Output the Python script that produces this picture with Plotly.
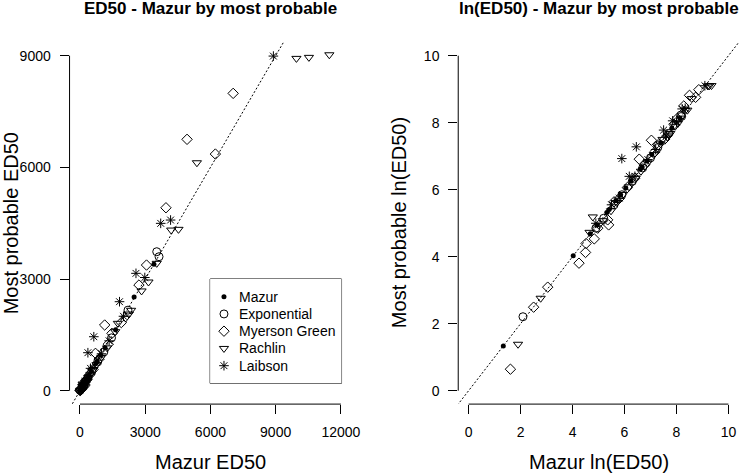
import numpy as np
import plotly.graph_objects as go

# ---------------- data (ED50 values: Mazur ED50 vs most probable ED50) ----------------
mazur_x = [3.8, 56, 108, 141, 204, 224, 290, 347, 424, 518, 742, 796, 953, 1153, 1636, 2490, 3400]
mazur_y = [3.8, 56, 108, 141, 204, 224, 290, 347, 424, 518, 742, 796, 953, 1153, 1636, 2520, 3400]

expo_x = [8.1, 134, 181, 270, 365, 545, 812, 1097, 1450, 2208, 3530, 3636]
expo_y = [9.1, 128, 172, 257, 347, 518, 773, 1043, 1420, 2164, 3734, 3600]

mg_x = [5.0, 12.2, 21, 70, 90, 92, 126, 144, 211, 219, 270, 330, 450, 600, 712, 880,
        1136, 1300, 1470, 1900, 2712, 3060, 3954, 4924, 6227, 7045]
mg_y = [1.9, 12.1, 22, 45, 62, 81, 93, 128, 164, 141, 281, 310, 430, 570, 1004, 850,
        1765, 1250, 1541, 1830, 2839, 3376, 4915, 6753, 6358, 7988]

rach_x = [6.7, 16, 105, 119, 150, 175, 240, 300, 380, 480, 620, 760, 980, 1250, 1621,
          1742, 2100, 2250, 2350, 2832, 3150, 3530, 4195, 4530, 5377, 9955, 10530, 11468]
rach_y = [4.0, 15.8, 113, 179, 140, 160, 215, 275, 350, 440, 570, 700, 900, 1150, 1585,
          1810, 1950, 2060, 2160, 2680, 2920, 3422, 4316, 4335, 6124, 8928, 8955, 9025]

laib_x = [134, 245, 330, 364, 485, 602, 636, 992, 1340, 1818, 2000, 2575, 2981, 3713, 4167, 8895]
laib_y = [148, 257, 314, 1021, 601, 602, 1450, 992, 1340, 2391, 2000, 3153, 3041, 4496, 4585, 8990]

series_names = ["Mazur", "Exponential", "Myerson Green", "Rachlin", "Laibson"]

left_xticks = [0, 3000, 6000, 9000, 12000]
left_xlabels = ["0", "3000", "6000", "9000", "12000"]
left_yticks = [0, 3000, 6000, 9000]
left_ylabels = ["0", "3000", "6000", "9000"]
right_ticks = [0, 2, 4, 6, 8, 10]
right_labels = ["0", "2", "4", "6", "8", "10"]

# ---------------- layout geometry ----------------
W, H = 749, 476
FONT = "Liberation Sans, Arial, Helvetica, sans-serif"


def fx(p):
    return p / W


def fy(p):
    return 1 - p / H


L_dom = [fx(70.4), fx(355.6)]
R_dom = [fx(463.8), fx(747.8)]
Y_dom = [fy(404.1), fy(42.3)]

# legend box (pixels)
LG_L, LG_R, LG_T, LG_B = 212.7, 345.7, 279.0, 383.3
ROW_PX = 17.25
FIRST_ROW_PX = 17.7
KEY_PX = 14.0
TEXT_PX = 27.0

styles = [
    dict(symbol="circle", size=5, color="black", line=dict(width=0, color="black")),
    dict(symbol="circle-open", size=8, color="black", line=dict(width=1, color="black")),
    dict(symbol="diamond-open", size=8, color="black", line=dict(width=1, color="black")),
    dict(symbol="triangle-down-open", size=8, color="black", line=dict(width=1, color="black")),
    dict(symbol="asterisk-open", size=8, color="black", line=dict(width=1, color="black")),
]
data_x = [mazur_x, expo_x, mg_x, rach_x, laib_x]
data_y = [mazur_y, expo_y, mg_y, rach_y, laib_y]

fig = go.Figure()

# identity reference lines (dotted)
fig.add_trace(go.Scatter(x=[-1000, 20000], y=[-1000, 20000], mode="lines",
                         line=dict(color="black", width=1, dash="2px,2px"),
                         showlegend=False, hoverinfo="skip", xaxis="x", yaxis="y"))
fig.add_trace(go.Scatter(x=[-1, 11], y=[-1, 11], mode="lines",
                         line=dict(color="black", width=1, dash="2px,2px"),
                         showlegend=False, hoverinfo="skip", xaxis="x2", yaxis="y2"))

for name, xs, ys, st in zip(series_names, data_x, data_y, styles):
    fig.add_trace(go.Scatter(x=xs, y=ys, mode="markers", name=name, marker=st,
                             showlegend=False, xaxis="x", yaxis="y"))
    fig.add_trace(go.Scatter(x=np.log(xs), y=np.log(ys), mode="markers", name=name,
                             marker=st, showlegend=False, xaxis="x2", yaxis="y2"))

# legend keys (drawn in an invisible helper subplot, one row per series)
for i, (name, st) in enumerate(zip(series_names, styles)):
    fig.add_trace(go.Scatter(x=[0], y=[i], mode="markers", marker=st, name=name,
                             showlegend=False, hoverinfo="skip", xaxis="x3", yaxis="y3"))

axis_common = dict(ticks="outside", ticklen=9, tickwidth=1, tickcolor="black",
                   showline=False, showgrid=False, zeroline=False, tickmode="array",
                   tickfont=dict(size=14, color="black", family=FONT))

leg_w = LG_R - LG_L
leg_h = LG_B - LG_T
fig.update_layout(
    width=W, height=H, autosize=False,
    margin=dict(l=0, r=0, t=0, b=0),
    paper_bgcolor="white", plot_bgcolor="white",
    font=dict(family=FONT, color="black"),
    showlegend=False,
    xaxis=dict(domain=L_dom, range=[-480, 12480], tickvals=left_xticks, ticktext=left_xlabels,
               anchor="y", ticklabelstandoff=6, **axis_common),
    yaxis=dict(domain=Y_dom, range=[-360, 9360], tickvals=left_yticks, ticktext=left_ylabels,
               anchor="x", ticklabelstandoff=6, **axis_common),
    xaxis2=dict(domain=R_dom, range=[-0.4, 10.4], tickvals=right_ticks, ticktext=right_labels,
                anchor="y2", ticklabelstandoff=6, **axis_common),
    yaxis2=dict(domain=Y_dom, range=[-0.4, 10.4], tickvals=right_ticks, ticktext=right_labels,
                anchor="x2", ticklabelstandoff=6, **axis_common),
    xaxis3=dict(domain=[fx(LG_L), fx(LG_R)], range=[-KEY_PX, leg_w - KEY_PX],
                visible=False, fixedrange=True, anchor="y3"),
    yaxis3=dict(domain=[fy(LG_B), fy(LG_T)],
                range=[(leg_h - FIRST_ROW_PX) / ROW_PX, -FIRST_ROW_PX / ROW_PX],
                visible=False, fixedrange=True, anchor="x3"),
)

line_style = dict(color="black", width=1)
fig.add_shape(type="rect", xref="paper", yref="paper", x0=fx(LG_L), x1=fx(LG_R),
              y0=fy(LG_B), y1=fy(LG_T), line=line_style, fillcolor="white", layer="below")
fig.add_shape(type="line", xref="x", yref="paper", x0=0, x1=12000,
              y0=Y_dom[0], y1=Y_dom[0], line=line_style)
fig.add_shape(type="line", xref="paper", yref="y", x0=L_dom[0], x1=L_dom[0],
              y0=0, y1=9000, line=line_style)
fig.add_shape(type="line", xref="x2", yref="paper", x0=0, x1=10,
              y0=Y_dom[0], y1=Y_dom[0], line=line_style)
fig.add_shape(type="line", xref="paper", yref="y2", x0=R_dom[0], x1=R_dom[0],
              y0=0, y1=10, line=line_style)

for i, name in enumerate(series_names):
    fig.add_annotation(text=name, xref="x3", yref="y3", x=TEXT_PX - KEY_PX, y=i,
                       xanchor="left", yanchor="middle", showarrow=False,
                       font=dict(size=14, color="black", family=FONT))

Lc = (L_dom[0] + L_dom[1]) / 2
Rc = (R_dom[0] + R_dom[1]) / 2
ann = [
    dict(text="<b>ED50 - Mazur by most probable</b>", x=Lc, y=fy(8), font=dict(size=17)),
    dict(text="<b>ln(ED50) - Mazur by most probable</b>", x=Rc, y=fy(8), font=dict(size=17)),
    dict(text="Mazur ED50", x=Lc, y=fy(462), font=dict(size=20)),
    dict(text="Mazur ln(ED50)", x=Rc, y=fy(462), font=dict(size=20)),
    dict(text="Most probable ED50", x=fx(11.5), y=fy(223), font=dict(size=20), textangle=-90),
    dict(text="Most probable ln(ED50)", x=fx(404), y=fy(223), font=dict(size=20), textangle=-90),
]
for a in ann:
    a.update(xref="paper", yref="paper", showarrow=False, xanchor="center", yanchor="middle")
    a["font"].update(family=FONT, color="black")
    fig.add_annotation(**a)

fig.write_html("out.html",
               config={"displayModeBar": False, "staticPlot": True},
               post_script="document.body.style.margin='0';document.body.style.overflow='hidden';")
